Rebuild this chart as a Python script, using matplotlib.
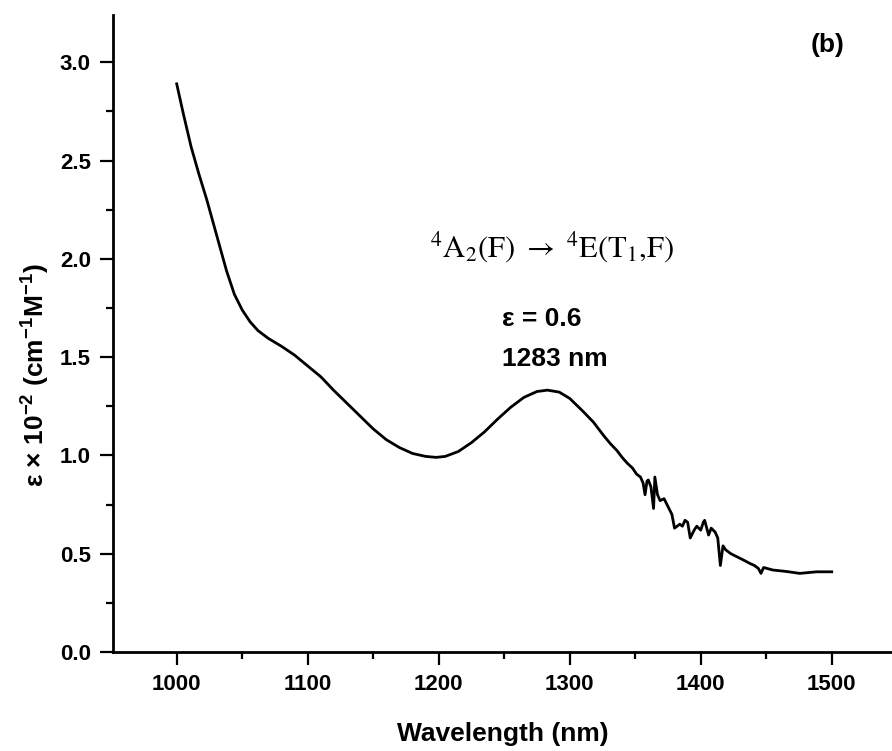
import matplotlib
matplotlib.use("Agg")
import matplotlib.pyplot as plt
from matplotlib.ticker import MultipleLocator

plt.rcParams['font.family'] = ['Liberation Sans', 'DejaVu Sans']
plt.rcParams['mathtext.fontset'] = 'custom'
plt.rcParams['mathtext.rm'] = 'Liberation Sans:bold'
plt.rcParams['mathtext.bf'] = 'Liberation Sans:bold'
plt.rcParams['mathtext.it'] = 'Liberation Sans:bold'

# spectrum
wavelength = [1000, 1005, 1011, 1017, 1023, 1028, 1033, 1038, 1044, 1050,
              1056, 1062, 1070, 1080, 1090, 1100, 1110, 1120, 1130, 1140,
              1150, 1160, 1170, 1180, 1190, 1198, 1205, 1215, 1225, 1235,
              1245, 1255, 1265, 1275, 1283, 1292, 1300, 1310, 1318, 1326,
              1331, 1336, 1340, 1344, 1348, 1351, 1354, 1356, 1357.5, 1359,
              1360, 1362, 1364, 1365, 1367, 1369, 1372, 1375, 1378, 1380,
              1384, 1386, 1388, 1390, 1392, 1395, 1397, 1400, 1402, 1403,
              1406, 1408, 1411, 1413, 1415, 1417, 1419, 1423, 1427.5, 1432,
              1437.7, 1441, 1444, 1446, 1448, 1455, 1465, 1475.6, 1488.5, 1500]
epsilon = [2.89, 2.74, 2.57, 2.43, 2.30, 2.18, 2.06, 1.94, 1.82, 1.74,
           1.68, 1.635, 1.595, 1.555, 1.51, 1.455, 1.40, 1.33, 1.265, 1.20,
           1.135, 1.08, 1.04, 1.01, 0.995, 0.99, 0.995, 1.02, 1.065, 1.12,
           1.185, 1.245, 1.295, 1.325, 1.332, 1.322, 1.29, 1.225, 1.17, 1.10,
           1.06, 1.025, 0.99, 0.96, 0.935, 0.905, 0.89, 0.86, 0.80, 0.87,
           0.875, 0.84, 0.73, 0.89, 0.80, 0.77, 0.78, 0.74, 0.70, 0.63,
           0.65, 0.64, 0.67, 0.66, 0.58, 0.62, 0.64, 0.62, 0.66, 0.67,
           0.595, 0.63, 0.61, 0.58, 0.44, 0.54, 0.52, 0.50, 0.485, 0.47,
           0.45, 0.44, 0.425, 0.40, 0.43, 0.417, 0.41, 0.40, 0.408, 0.408]

xticks = [1000, 1100, 1200, 1300, 1400, 1500]
yticks = [0.0, 0.5, 1.0, 1.5, 2.0, 2.5, 3.0]

fig = plt.figure(figsize=(8.92, 7.51), dpi=100)
ax = fig.add_axes([0.1267, 0.1318, 0.8733, 0.8482])

ax.plot(wavelength, epsilon, color='black', lw=2)

ax.set_xlim(951.4, 1546)
ax.set_ylim(0, 3.24)
ax.set_xticks(xticks)
ax.set_yticks(yticks)
ax.xaxis.set_minor_locator(MultipleLocator(50))
ax.yaxis.set_minor_locator(MultipleLocator(0.25))
ax.set_yticklabels(['%.1f' % v for v in yticks])

for s in ['top', 'right']:
    ax.spines[s].set_visible(False)
for s in ['left', 'bottom']:
    ax.spines[s].set_linewidth(2)

ax.tick_params(which='major', direction='out', length=9.5, width=1.6, pad=6.5,
               labelsize=16)
ax.tick_params(which='minor', direction='out', length=5, width=1.6)
for lab in ax.get_xticklabels() + ax.get_yticklabels():
    lab.set_fontweight('bold')

ax.set_xlabel('Wavelength (nm)', fontsize=19, fontweight='bold')
ax.xaxis.set_label_coords(0.5, -0.11)
ax.set_ylabel(r'ε × 10$^{-2}$ (cm$^{-1}$M$^{-1}$)', fontsize=19, fontweight='bold')
ax.yaxis.set_label_coords(-0.078, 0.435)

ax.text(1497, 3.09, '(b)', fontsize=19, fontweight='bold', ha='center', va='center')
ax.text(1286.6, 2.06, r'$\mathrm{^{4}A_{2}(F)\ \rightarrow\ ^{4}E(T_{1}{,}F)}$',
        fontsize=22, math_fontfamily='stix', ha='center', va='center')
ax.text(1248, 1.694, 'ε = 0.6', fontsize=19, fontweight='bold', ha='left',
        va='center')
ax.text(1248, 1.49, '1283 nm', fontsize=19, fontweight='bold', ha='left',
        va='center')

fig.savefig('out.png', dpi=100)
